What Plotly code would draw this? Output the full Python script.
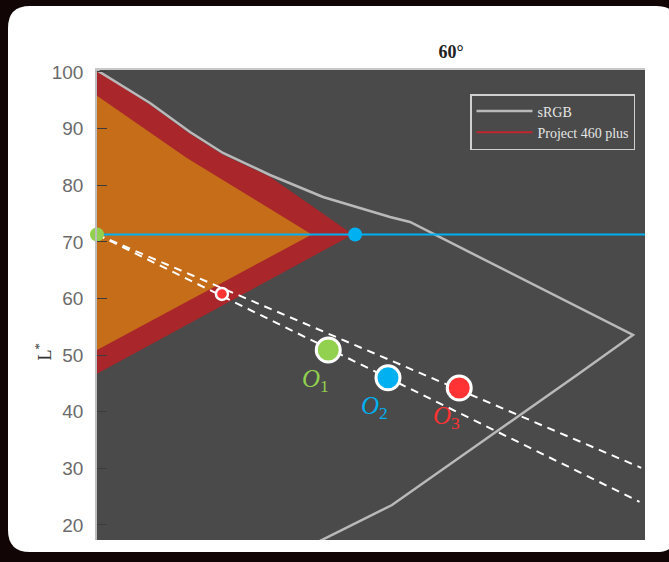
import plotly.graph_objects as go

# ---- data (chroma C*, lightness L*) ----
srgb_c = [0.0, 9.67, 16.97, 22.99, 31.57, 41.24, 53.47, 57.12, 97.81, 87.59, 53.83, 37.0]
srgb_l = [100.3, 94.52, 89.40, 85.70, 81.81, 77.93, 74.39, 73.51, 53.55, 46.49, 23.53, 15.4]

p460_c = [0.0, 9.67, 16.97, 22.99, 31.57, 46.7, 0.0]
p460_l = [100.3, 94.2, 89.1, 85.4, 81.5, 71.3, 46.7]

core_c = [0.0, 16.4, 39.2, 0.0]
core_l = [95.8, 84.8, 71.3, 50.9]

const_l_c = [0.0, 100.0]
const_l_l = [71.3, 71.3]

ray_upper_c = [0.0, 99.3]
ray_upper_l = [71.3, 30.1]
ray_lower_c = [0.0, 99.0]
ray_lower_l = [71.3, 24.1]

anchor_c, anchor_l = 0.0, 71.3
cusp_c, cusp_l = 47.1, 71.3
clip_c, clip_l = 22.8, 60.8

obj_names = ["1", "2", "3"]
obj_c = [42.2, 53.1, 66.1]
obj_l = [50.9, 46.0, 44.2]
obj_colors = ["#92d050", "#00b0f0", "#ff3333"]

y_ticks = [20, 30, 40, 50, 60, 70, 80, 90, 100]

# ---- page geometry ----
W, H = 669, 562
ML, MR, MT, MB = 97, 24, 70, 22
PW, PH = W - ML - MR, H - MT - MB


def fx(px):
    return (px - ML) / PW


def fy(py):
    return 1 - (py - MT) / PH


def rounded_card(x0, y0, x1, y1, r):
    pts = [
        ("M", [(x0 + r, y0)]),
        ("L", [(x1 - r, y0)]),
        ("Q", [(x1, y0), (x1, y0 + r)]),
        ("L", [(x1, y1 - r)]),
        ("Q", [(x1, y1), (x1 - r, y1)]),
        ("L", [(x0 + r, y1)]),
        ("Q", [(x0, y1), (x0, y1 - r)]),
        ("L", [(x0, y0 + r)]),
        ("Q", [(x0, y0), (x0 + r, y0)]),
    ]
    s = ""
    for cmd, coords in pts:
        s += cmd + " " + " ".join(f"{fx(a):.5f},{fy(b):.5f}" for a, b in coords) + " "
    return s + "Z"


fig = go.Figure()

fig.add_trace(go.Scatter(x=p460_c, y=p460_l, mode="lines", fill="toself",
                         fillcolor="#a9262b", line=dict(width=0),
                         showlegend=False, hoverinfo="skip"))
fig.add_trace(go.Scatter(x=core_c, y=core_l, mode="lines", fill="toself",
                         fillcolor="#c56d18", line=dict(width=0),
                         showlegend=False, hoverinfo="skip"))
fig.add_trace(go.Scatter(x=srgb_c, y=srgb_l, mode="lines", name="sRGB",
                         line=dict(color="#b9b9b9", width=2.5)))
fig.add_trace(go.Scatter(x=[None], y=[None], mode="lines", name="Project 460 plus",
                         line=dict(color="#c0262c", width=2)))

fig.add_trace(go.Scatter(x=const_l_c, y=const_l_l, mode="lines", showlegend=False,
                         line=dict(color="#00b0f0", width=2)))
for rc, rl in [(ray_upper_c, ray_upper_l), (ray_lower_c, ray_lower_l)]:
    fig.add_trace(go.Scatter(x=rc, y=rl, mode="lines", showlegend=False,
                             line=dict(color="white", width=2, dash="8px,6px")))

fig.add_trace(go.Scatter(x=[anchor_c], y=[anchor_l], mode="markers", showlegend=False,
                         cliponaxis=False,
                         marker=dict(size=14, color="#92d050")))
fig.add_trace(go.Scatter(x=[cusp_c], y=[cusp_l], mode="markers", showlegend=False,
                         marker=dict(size=14, color="#00b0f0")))
fig.add_trace(go.Scatter(x=[clip_c], y=[clip_l], mode="markers", showlegend=False,
                         marker=dict(size=12, color="#ff3333",
                                     line=dict(color="white", width=2.5))))
fig.add_trace(go.Scatter(x=obj_c, y=obj_l, mode="markers", showlegend=False,
                         marker=dict(size=24, color=obj_colors,
                                     line=dict(color="white", width=3))))

annotations = []
for name, c, l, col in zip(obj_names, obj_c, obj_l, obj_colors):
    annotations.append(dict(
        x=c, y=l, xref="x", yref="y", xshift=-13, yshift=-30,
        text=f"<i>O</i><sub>{name}</sub>", showarrow=False,
        font=dict(family="Liberation Serif", size=25, color=col)))

annotations.append(dict(
    x=fx(30), y=fy(352), xref="paper", yref="paper", text="L<sup>*</sup>",
    textangle=-90, showarrow=False,
    font=dict(family="Liberation Serif", size=18, color="#333333")))

shapes = [
    dict(type="path", path=rounded_card(8, 6, 678, 552, 22), xref="paper", yref="paper",
         fillcolor="white", line=dict(width=0), layer="below"),
    dict(type="rect", x0=0, x1=1, y0=0, y1=1, xref="paper", yref="paper",
         fillcolor="#4a4a4a", line=dict(width=0), layer="below"),
]

fig.update_layout(
    width=W, height=H,
    margin=dict(l=ML, r=MR, t=MT, b=MB),
    paper_bgcolor="#120505",
    plot_bgcolor="#4a4a4a",
    title=dict(text="<b>60°</b>", x=fx(451), xref="paper", xanchor="center",
               y=1 - 52 / H, yanchor="middle",
               font=dict(family="Liberation Serif", size=18, color="#222222")),
    xaxis=dict(range=[0, 100], showticklabels=False, ticks="", showgrid=False,
               zeroline=False, side="top", showline=True, linecolor="#c8c8c8",
               linewidth=2),
    yaxis=dict(range=[17.35, 100.35], tickvals=y_ticks, ticks="inside", ticklen=10,
               tickcolor="#3c3c3c", showgrid=False, zeroline=False,
               showline=True, linecolor="#bdbdbd", linewidth=1.5,
               ticklabelstandoff=8,
               tickfont=dict(family="Liberation Sans", size=19, color="#6b6b6b")),
    legend=dict(x=fx(635), y=fy(94), xanchor="right", yanchor="top",
                bgcolor="rgba(0,0,0,0)", bordercolor="#d0d0d0", borderwidth=1.5,
                font=dict(family="Liberation Serif", size=14, color="#e6e6e6"),
                itemwidth=56, tracegroupgap=0),
    shapes=shapes,
    annotations=annotations,
)

fig.write_html("out.html")
